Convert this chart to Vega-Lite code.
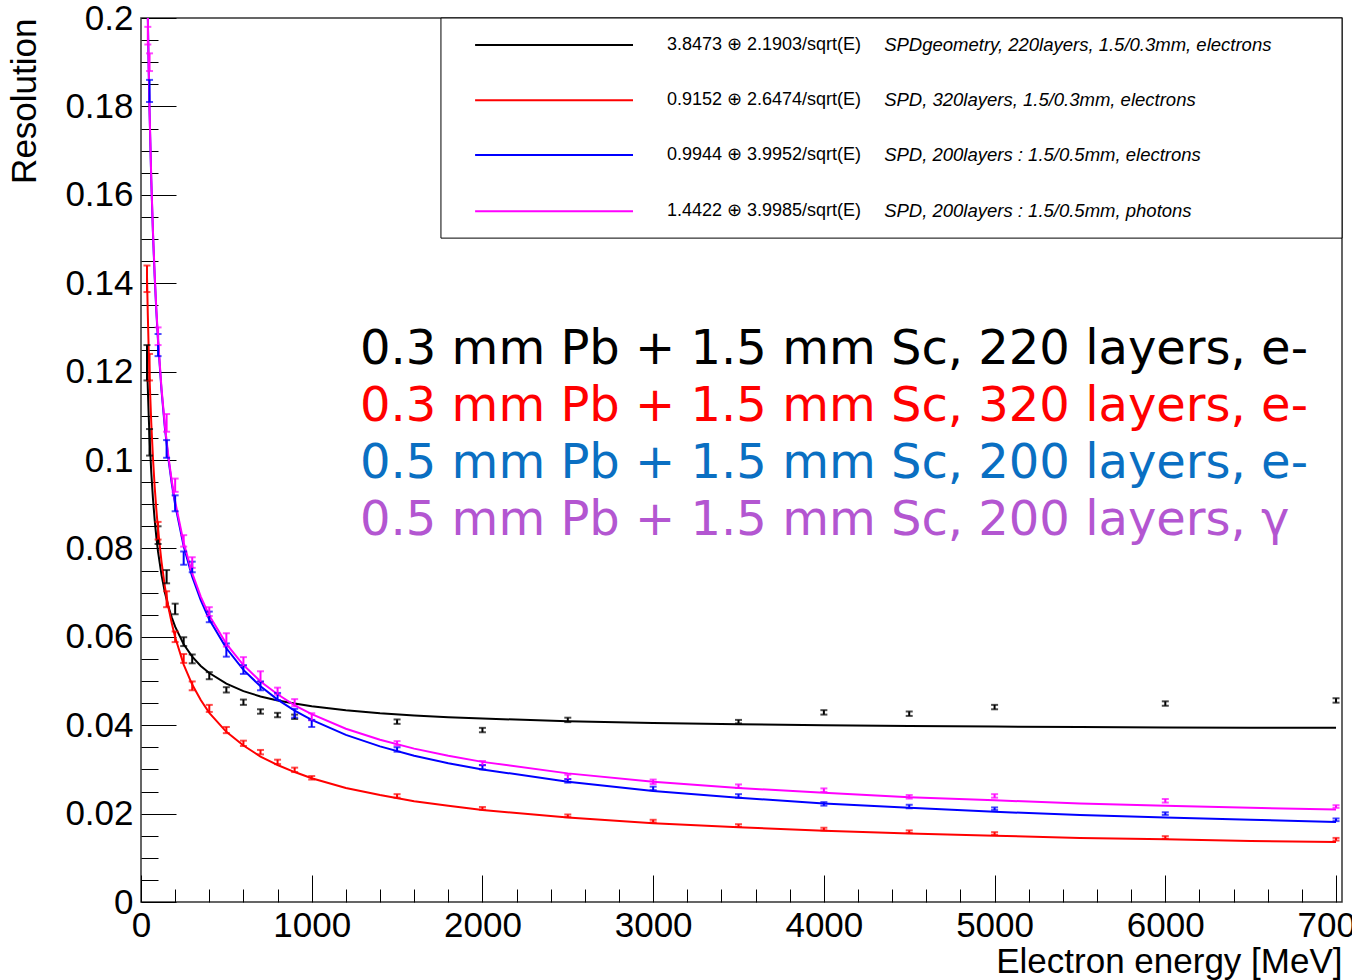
{
"$schema":"https://vega.github.io/schema/vega-lite/v6.json",
"autosize":{"type":"none"},
"width":1201,"height":884,
"padding":{"left":141,"top":18,"right":10,"bottom":78},
"background":"white",
"config":{"view":{"stroke":"#333333","strokeWidth":1.5},"axis":{"grid":false}},
"datasets":{
"curves":[
{"s":"a","E":35,"r":0.1232},{"s":"a","E":40,"r":0.1161},{"s":"a","E":45,"r":0.1102},{"s":"a","E":50,"r":0.1052},{"s":"a","E":60,"r":0.0973},{"s":"a","E":70,"r":0.0913},{"s":"a","E":80,"r":0.0865},{"s":"a","E":90,"r":0.0825},{"s":"a","E":100,"r":0.0792},{"s":"a","E":120,"r":0.0740},{"s":"a","E":140,"r":0.0700},{"s":"a","E":160,"r":0.0669},{"s":"a","E":180,"r":0.0644},{"s":"a","E":200,"r":0.0623},{"s":"a","E":250,"r":0.0583},{"s":"a","E":300,"r":0.0555},{"s":"a","E":350,"r":0.0534},{"s":"a","E":400,"r":0.0518},{"s":"a","E":500,"r":0.0494},{"s":"a","E":600,"r":0.0477},{"s":"a","E":700,"r":0.0465},{"s":"a","E":800,"r":0.0456},{"s":"a","E":900,"r":0.0449},{"s":"a","E":1000,"r":0.0443},{"s":"a","E":1200,"r":0.0434},{"s":"a","E":1400,"r":0.0427},{"s":"a","E":1600,"r":0.0422},{"s":"a","E":1800,"r":0.0418},{"s":"a","E":2000,"r":0.0415},{"s":"a","E":2500,"r":0.0409},{"s":"a","E":3000,"r":0.0405},{"s":"a","E":3500,"r":0.0402},{"s":"a","E":4000,"r":0.0400},{"s":"a","E":4500,"r":0.0398},{"s":"a","E":5000,"r":0.0397},{"s":"a","E":5500,"r":0.0396},{"s":"a","E":6000,"r":0.0395},{"s":"a","E":6500,"r":0.0394},{"s":"a","E":7000,"r":0.0394},
{"s":"b","E":35,"r":0.1418},{"s":"b","E":40,"r":0.1327},{"s":"b","E":45,"r":0.1251},{"s":"b","E":50,"r":0.1187},{"s":"b","E":60,"r":0.1085},{"s":"b","E":70,"r":0.1005},{"s":"b","E":80,"r":0.0940},{"s":"b","E":90,"r":0.0887},{"s":"b","E":100,"r":0.0842},{"s":"b","E":120,"r":0.0770},{"s":"b","E":140,"r":0.0713},{"s":"b","E":160,"r":0.0668},{"s":"b","E":180,"r":0.0631},{"s":"b","E":200,"r":0.0599},{"s":"b","E":250,"r":0.0537},{"s":"b","E":300,"r":0.0492},{"s":"b","E":350,"r":0.0457},{"s":"b","E":400,"r":0.0428},{"s":"b","E":500,"r":0.0385},{"s":"b","E":600,"r":0.0354},{"s":"b","E":700,"r":0.0329},{"s":"b","E":800,"r":0.0310},{"s":"b","E":900,"r":0.0294},{"s":"b","E":1000,"r":0.0280},{"s":"b","E":1200,"r":0.0258},{"s":"b","E":1400,"r":0.0242},{"s":"b","E":1600,"r":0.0228},{"s":"b","E":1800,"r":0.0218},{"s":"b","E":2000,"r":0.0208},{"s":"b","E":2500,"r":0.0191},{"s":"b","E":3000,"r":0.0178},{"s":"b","E":3500,"r":0.0169},{"s":"b","E":4000,"r":0.0161},{"s":"b","E":4500,"r":0.0155},{"s":"b","E":5000,"r":0.0150},{"s":"b","E":5500,"r":0.0145},{"s":"b","E":6000,"r":0.0142},{"s":"b","E":6500,"r":0.0138},{"s":"b","E":7000,"r":0.0136},
{"s":"c","E":35,"r":0.2138},{"s":"c","E":40,"r":0.2000},{"s":"c","E":45,"r":0.1886},{"s":"c","E":50,"r":0.1789},{"s":"c","E":60,"r":0.1634},{"s":"c","E":70,"r":0.1513},{"s":"c","E":80,"r":0.1416},{"s":"c","E":90,"r":0.1335},{"s":"c","E":100,"r":0.1267},{"s":"c","E":120,"r":0.1158},{"s":"c","E":140,"r":0.1072},{"s":"c","E":160,"r":0.1004},{"s":"c","E":180,"r":0.0947},{"s":"c","E":200,"r":0.0899},{"s":"c","E":250,"r":0.0805},{"s":"c","E":300,"r":0.0736},{"s":"c","E":350,"r":0.0683},{"s":"c","E":400,"r":0.0639},{"s":"c","E":500,"r":0.0574},{"s":"c","E":600,"r":0.0525},{"s":"c","E":700,"r":0.0488},{"s":"c","E":800,"r":0.0458},{"s":"c","E":900,"r":0.0433},{"s":"c","E":1000,"r":0.0412},{"s":"c","E":1200,"r":0.0378},{"s":"c","E":1400,"r":0.0352},{"s":"c","E":1600,"r":0.0331},{"s":"c","E":1800,"r":0.0314},{"s":"c","E":2000,"r":0.0300},{"s":"c","E":2500,"r":0.0272},{"s":"c","E":3000,"r":0.0251},{"s":"c","E":3500,"r":0.0236},{"s":"c","E":4000,"r":0.0223},{"s":"c","E":4500,"r":0.0213},{"s":"c","E":5000,"r":0.0204},{"s":"c","E":5500,"r":0.0197},{"s":"c","E":6000,"r":0.0191},{"s":"c","E":6500,"r":0.0186},{"s":"c","E":7000,"r":0.0181},
{"s":"d","E":35,"r":0.2142},{"s":"d","E":40,"r":0.2004},{"s":"d","E":45,"r":0.1890},{"s":"d","E":50,"r":0.1794},{"s":"d","E":60,"r":0.1639},{"s":"d","E":70,"r":0.1518},{"s":"d","E":80,"r":0.1421},{"s":"d","E":90,"r":0.1341},{"s":"d","E":100,"r":0.1273},{"s":"d","E":120,"r":0.1163},{"s":"d","E":140,"r":0.1078},{"s":"d","E":160,"r":0.1010},{"s":"d","E":180,"r":0.0953},{"s":"d","E":200,"r":0.0906},{"s":"d","E":250,"r":0.0813},{"s":"d","E":300,"r":0.0744},{"s":"d","E":350,"r":0.0691},{"s":"d","E":400,"r":0.0648},{"s":"d","E":500,"r":0.0584},{"s":"d","E":600,"r":0.0536},{"s":"d","E":700,"r":0.0499},{"s":"d","E":800,"r":0.0470},{"s":"d","E":900,"r":0.0445},{"s":"d","E":1000,"r":0.0425},{"s":"d","E":1200,"r":0.0392},{"s":"d","E":1400,"r":0.0367},{"s":"d","E":1600,"r":0.0347},{"s":"d","E":1800,"r":0.0331},{"s":"d","E":2000,"r":0.0317},{"s":"d","E":2500,"r":0.0291},{"s":"d","E":3000,"r":0.0272},{"s":"d","E":3500,"r":0.0258},{"s":"d","E":4000,"r":0.0247},{"s":"d","E":4500,"r":0.0237},{"s":"d","E":5000,"r":0.0230},{"s":"d","E":5500,"r":0.0223},{"s":"d","E":6000,"r":0.0218},{"s":"d","E":6500,"r":0.0213},{"s":"d","E":7000,"r":0.0209}
],
"pts":[
{"s":"a","E":35,"r":0.122,"e":0.004},{"s":"a","E":50,"r":0.104,"e":0.003},{"s":"a","E":100,"r":0.083,"e":0.002},{"s":"a","E":150,"r":0.0736,"e":0.0015},{"s":"a","E":200,"r":0.0663,"e":0.0012},{"s":"a","E":250,"r":0.0589,"e":0.001},{"s":"a","E":300,"r":0.0550,"e":0.001},{"s":"a","E":400,"r":0.0512,"e":0.0008},{"s":"a","E":500,"r":0.0480,"e":0.0006},{"s":"a","E":600,"r":0.0452,"e":0.0006},{"s":"a","E":700,"r":0.0431,"e":0.0005},{"s":"a","E":800,"r":0.0423,"e":0.0005},{"s":"a","E":900,"r":0.0419,"e":0.0005},{"s":"a","E":1500,"r":0.0408,"e":0.0005},{"s":"a","E":2000,"r":0.0389,"e":0.0005},{"s":"a","E":2500,"r":0.0412,"e":0.0005},{"s":"a","E":3500,"r":0.0408,"e":0.0004},{"s":"a","E":4000,"r":0.0429,"e":0.0005},{"s":"a","E":4500,"r":0.0426,"e":0.0005},{"s":"a","E":5000,"r":0.0441,"e":0.0005},{"s":"a","E":6000,"r":0.0449,"e":0.0005},{"s":"a","E":7000,"r":0.0456,"e":0.0005},
{"s":"b","E":35,"r":0.141,"e":0.003},{"s":"b","E":50,"r":0.121,"e":0.003},{"s":"b","E":100,"r":0.084,"e":0.002},{"s":"b","E":150,"r":0.0685,"e":0.0018},{"s":"b","E":200,"r":0.0600,"e":0.0012},{"s":"b","E":250,"r":0.0551,"e":0.001},{"s":"b","E":300,"r":0.0489,"e":0.001},{"s":"b","E":400,"r":0.0438,"e":0.0008},{"s":"b","E":500,"r":0.0389,"e":0.0007},{"s":"b","E":600,"r":0.0359,"e":0.0006},{"s":"b","E":700,"r":0.0339,"e":0.0005},{"s":"b","E":800,"r":0.0317,"e":0.0005},{"s":"b","E":900,"r":0.0299,"e":0.0005},{"s":"b","E":1000,"r":0.0281,"e":0.0004},{"s":"b","E":1500,"r":0.0240,"e":0.0004},{"s":"b","E":2000,"r":0.0212,"e":0.0003},{"s":"b","E":2500,"r":0.0195,"e":0.0003},{"s":"b","E":3000,"r":0.0183,"e":0.0003},{"s":"b","E":3500,"r":0.0173,"e":0.0003},{"s":"b","E":4000,"r":0.0165,"e":0.0003},{"s":"b","E":4500,"r":0.0159,"e":0.0003},{"s":"b","E":5000,"r":0.0155,"e":0.0003},{"s":"b","E":6000,"r":0.0146,"e":0.0003},{"s":"b","E":7000,"r":0.0142,"e":0.0003},
{"s":"c","E":50,"r":0.1835,"e":0.0025},{"s":"c","E":100,"r":0.126,"e":0.0025},{"s":"c","E":150,"r":0.1025,"e":0.002},{"s":"c","E":200,"r":0.0902,"e":0.0018},{"s":"c","E":250,"r":0.0778,"e":0.0015},{"s":"c","E":300,"r":0.0758,"e":0.0012},{"s":"c","E":400,"r":0.0645,"e":0.0012},{"s":"c","E":500,"r":0.0570,"e":0.0015},{"s":"c","E":600,"r":0.0526,"e":0.001},{"s":"c","E":700,"r":0.0489,"e":0.001},{"s":"c","E":800,"r":0.0465,"e":0.0008},{"s":"c","E":900,"r":0.0427,"e":0.001},{"s":"c","E":1000,"r":0.0404,"e":0.0008},{"s":"c","E":1500,"r":0.0345,"e":0.0005},{"s":"c","E":2000,"r":0.0305,"e":0.0005},{"s":"c","E":2500,"r":0.0274,"e":0.0004},{"s":"c","E":3000,"r":0.0257,"e":0.0004},{"s":"c","E":3500,"r":0.0240,"e":0.0004},{"s":"c","E":4000,"r":0.0222,"e":0.0004},{"s":"c","E":4500,"r":0.0216,"e":0.0004},{"s":"c","E":5000,"r":0.0211,"e":0.0003},{"s":"c","E":6000,"r":0.0200,"e":0.0003},{"s":"c","E":7000,"r":0.0186,"e":0.0003},
{"s":"d","E":40,"r":0.196,"e":0.002},{"s":"d","E":50,"r":0.190,"e":0.002},{"s":"d","E":100,"r":0.128,"e":0.002},{"s":"d","E":150,"r":0.1084,"e":0.002},{"s":"d","E":200,"r":0.0943,"e":0.0015},{"s":"d","E":250,"r":0.0817,"e":0.0013},{"s":"d","E":300,"r":0.0768,"e":0.0012},{"s":"d","E":400,"r":0.0657,"e":0.001},{"s":"d","E":500,"r":0.0593,"e":0.0015},{"s":"d","E":600,"r":0.0544,"e":0.001},{"s":"d","E":700,"r":0.0510,"e":0.0012},{"s":"d","E":800,"r":0.0477,"e":0.0008},{"s":"d","E":900,"r":0.0451,"e":0.0008},{"s":"d","E":1000,"r":0.0419,"e":0.0008},{"s":"d","E":1500,"r":0.0359,"e":0.0005},{"s":"d","E":2000,"r":0.0314,"e":0.0005},{"s":"d","E":2500,"r":0.0283,"e":0.0005},{"s":"d","E":3000,"r":0.0272,"e":0.0005},{"s":"d","E":3500,"r":0.0262,"e":0.0004},{"s":"d","E":4000,"r":0.0253,"e":0.0004},{"s":"d","E":4500,"r":0.0238,"e":0.0004},{"s":"d","E":5000,"r":0.0240,"e":0.0004},{"s":"d","E":6000,"r":0.0229,"e":0.0004},{"s":"d","E":7000,"r":0.0216,"e":0.0003}
],
"box":[{"x1":1757,"x2":7035,"y1":0.1502,"y2":0.2}],
"leg":[
{"s":"a","lx1":1957,"lx2":2882,"ly":0.1939,"fx":3081,"dx":4353,"f":"3.8473 ⊕ 2.1903/sqrt(E)","d":"SPDgeometry, 220layers, 1.5/0.3mm, electrons"},
{"s":"b","lx1":1957,"lx2":2882,"ly":0.1814,"fx":3081,"dx":4353,"f":"0.9152 ⊕ 2.6474/sqrt(E)","d":"SPD, 320layers, 1.5/0.3mm, electrons"},
{"s":"c","lx1":1957,"lx2":2882,"ly":0.1690,"fx":3081,"dx":4353,"f":"0.9944 ⊕ 3.9952/sqrt(E)","d":"SPD, 200layers : 1.5/0.5mm, electrons"},
{"s":"d","lx1":1957,"lx2":2882,"ly":0.1563,"fx":3081,"dx":4353,"f":"1.4422 ⊕ 3.9985/sqrt(E)","d":"SPD, 200layers : 1.5/0.5mm, photons"}
],
"notes":[
{"k":"a","E":1283,"r":0.1217,"t":"0.3 mm Pb + 1.5 mm Sc, 220 layers, e-"},
{"k":"b","E":1283,"r":0.1088,"t":"0.3 mm Pb + 1.5 mm Sc, 320 layers, e-"},
{"k":"c","E":1283,"r":0.0959,"t":"0.5 mm Pb + 1.5 mm Sc, 200 layers, e-"},
{"k":"d","E":1283,"r":0.0830,"t":"0.5 mm Pb + 1.5 mm Sc, 200 layers, γ"}
]
},
"layer":[
{"data":{"name":"curves"},"mark":{"type":"line","strokeWidth":2,"clip":true},
"encoding":{
"x":{"field":"E","type":"quantitative","scale":{"domain":[0,7035],"nice":false,"zero":false},
"axis":{"orient":"bottom","values":[0,1000,2000,3000,4000,5000,6000,7000],"format":"d","tickSize":-27,"tickColor":"#000000","tickWidth":1,"domain":false,"labelPadding":33,"labelFont":"Liberation Sans","labelFontSize":35,"labelColor":"#000000","labelFlush":false,"labelOverlap":false,
"title":"Electron energy [MeV]","titleFont":"Liberation Sans","titleFontSize":35,"titleFontWeight":"normal","titleColor":"#000000","titleAlign":"right","titleAnchor":"end","titleBaseline":"alphabetic","titleX":1201,"titleY":70}},
"y":{"field":"r","type":"quantitative","scale":{"domain":[0,0.2],"nice":false,"zero":false},
"axis":{"orient":"left","values":[0,0.02,0.04,0.06,0.08,0.1,0.12,0.14,0.16,0.18,0.2],"format":"~g","tickSize":-35,"tickColor":"#000000","tickWidth":1,"domain":false,"labelPadding":43,"labelFont":"Liberation Sans","labelFontSize":35,"labelColor":"#000000","labelFlush":false,"labelOverlap":false,
"title":"Resolution","titleFont":"Liberation Sans","titleFontSize":35,"titleFontWeight":"normal","titleColor":"#000000","titleAngle":-90,"titleAlign":"right","titleBaseline":"alphabetic","titleX":-106,"titleY":0}},
"color":{"field":"s","type":"nominal","scale":{"domain":["a","b","c","d"],"range":["#000000","#ff0000","#0000ff","#ff00ff"]},"legend":null}
}},
{"data":{"name":"pts"},"mark":{"type":"errorbar","ticks":true,"size":7,"thickness":2,"clip":true},
"encoding":{
"x":{"field":"E","type":"quantitative","scale":{"domain":[0,7035],"nice":false,"zero":false},
"axis":{"orient":"bottom","values":[200,400,600,800,1200,1400,1600,1800,2200,2400,2600,2800,3200,3400,3600,3800,4200,4400,4600,4800,5200,5400,5600,5800,6200,6400,6600,6800],"tickSize":-13,"tickColor":"#000000","tickWidth":1,"domain":false,"labels":false,"title":null}},
"y":{"field":"r","type":"quantitative","scale":{"domain":[0,0.2],"nice":false,"zero":false},
"axis":{"orient":"left","values":[0.005,0.01,0.015,0.025,0.03,0.035,0.045,0.05,0.055,0.065,0.07,0.075,0.085,0.09,0.095,0.105,0.11,0.115,0.125,0.13,0.135,0.145,0.15,0.155,0.165,0.17,0.175,0.185,0.19,0.195],"tickSize":-17,"tickColor":"#000000","tickWidth":1,"domain":false,"labels":false,"title":null}},
"yError":{"field":"e"},
"color":{"field":"s","type":"nominal","scale":{"domain":["a","b","c","d"],"range":["#000000","#ff0000","#0000ff","#ff00ff"]},"legend":null}
}},
{"data":{"name":"box"},"mark":{"type":"rect","fill":"#ffffff","stroke":"#000000","strokeWidth":1},
"encoding":{
"x":{"field":"x1","type":"quantitative","scale":{"domain":[0,7035],"nice":false,"zero":false},"axis":null},
"x2":{"field":"x2"},
"y":{"field":"y1","type":"quantitative","scale":{"domain":[0,0.2],"nice":false,"zero":false},"axis":null},
"y2":{"field":"y2"}
}},
{"data":{"name":"leg"},"mark":{"type":"rule","strokeWidth":2},
"encoding":{
"x":{"field":"lx1","type":"quantitative","scale":{"domain":[0,7035],"nice":false,"zero":false},"axis":null},
"x2":{"field":"lx2"},
"y":{"field":"ly","type":"quantitative","scale":{"domain":[0,0.2],"nice":false,"zero":false},"axis":null},
"color":{"field":"s","type":"nominal","scale":{"domain":["a","b","c","d"],"range":["#000000","#ff0000","#0000ff","#ff00ff"]},"legend":null}
}},
{"data":{"name":"leg"},"mark":{"type":"text","align":"left","baseline":"middle","font":"Liberation Sans","fontSize":18,"color":"#000000"},
"encoding":{
"x":{"field":"fx","type":"quantitative","scale":{"domain":[0,7035],"nice":false,"zero":false},"axis":null},
"y":{"field":"ly","type":"quantitative","scale":{"domain":[0,0.2],"nice":false,"zero":false},"axis":null},
"text":{"field":"f"}
}},
{"data":{"name":"leg"},"mark":{"type":"text","align":"left","baseline":"middle","font":"Liberation Sans","fontStyle":"italic","fontSize":18.5,"color":"#000000"},
"encoding":{
"x":{"field":"dx","type":"quantitative","scale":{"domain":[0,7035],"nice":false,"zero":false},"axis":null},
"y":{"field":"ly","type":"quantitative","scale":{"domain":[0,0.2],"nice":false,"zero":false},"axis":null},
"text":{"field":"d"}
}},
{"data":{"name":"notes"},"mark":{"type":"text","align":"left","baseline":"alphabetic","font":"DejaVu Sans","fontSize":48},
"encoding":{
"x":{"field":"E","type":"quantitative","scale":{"domain":[0,7035],"nice":false,"zero":false},"axis":null},
"y":{"field":"r","type":"quantitative","scale":{"domain":[0,0.2],"nice":false,"zero":false},"axis":null},
"text":{"field":"t"},
"color":{"field":"k","type":"nominal","scale":{"domain":["a","b","c","d"],"range":["#000000","#ff0000","#0a6fc2","#b356d1"]},"legend":null}
}}
],
"resolve":{"axis":{"x":"independent","y":"independent"},"scale":{"color":"independent"}}
}
